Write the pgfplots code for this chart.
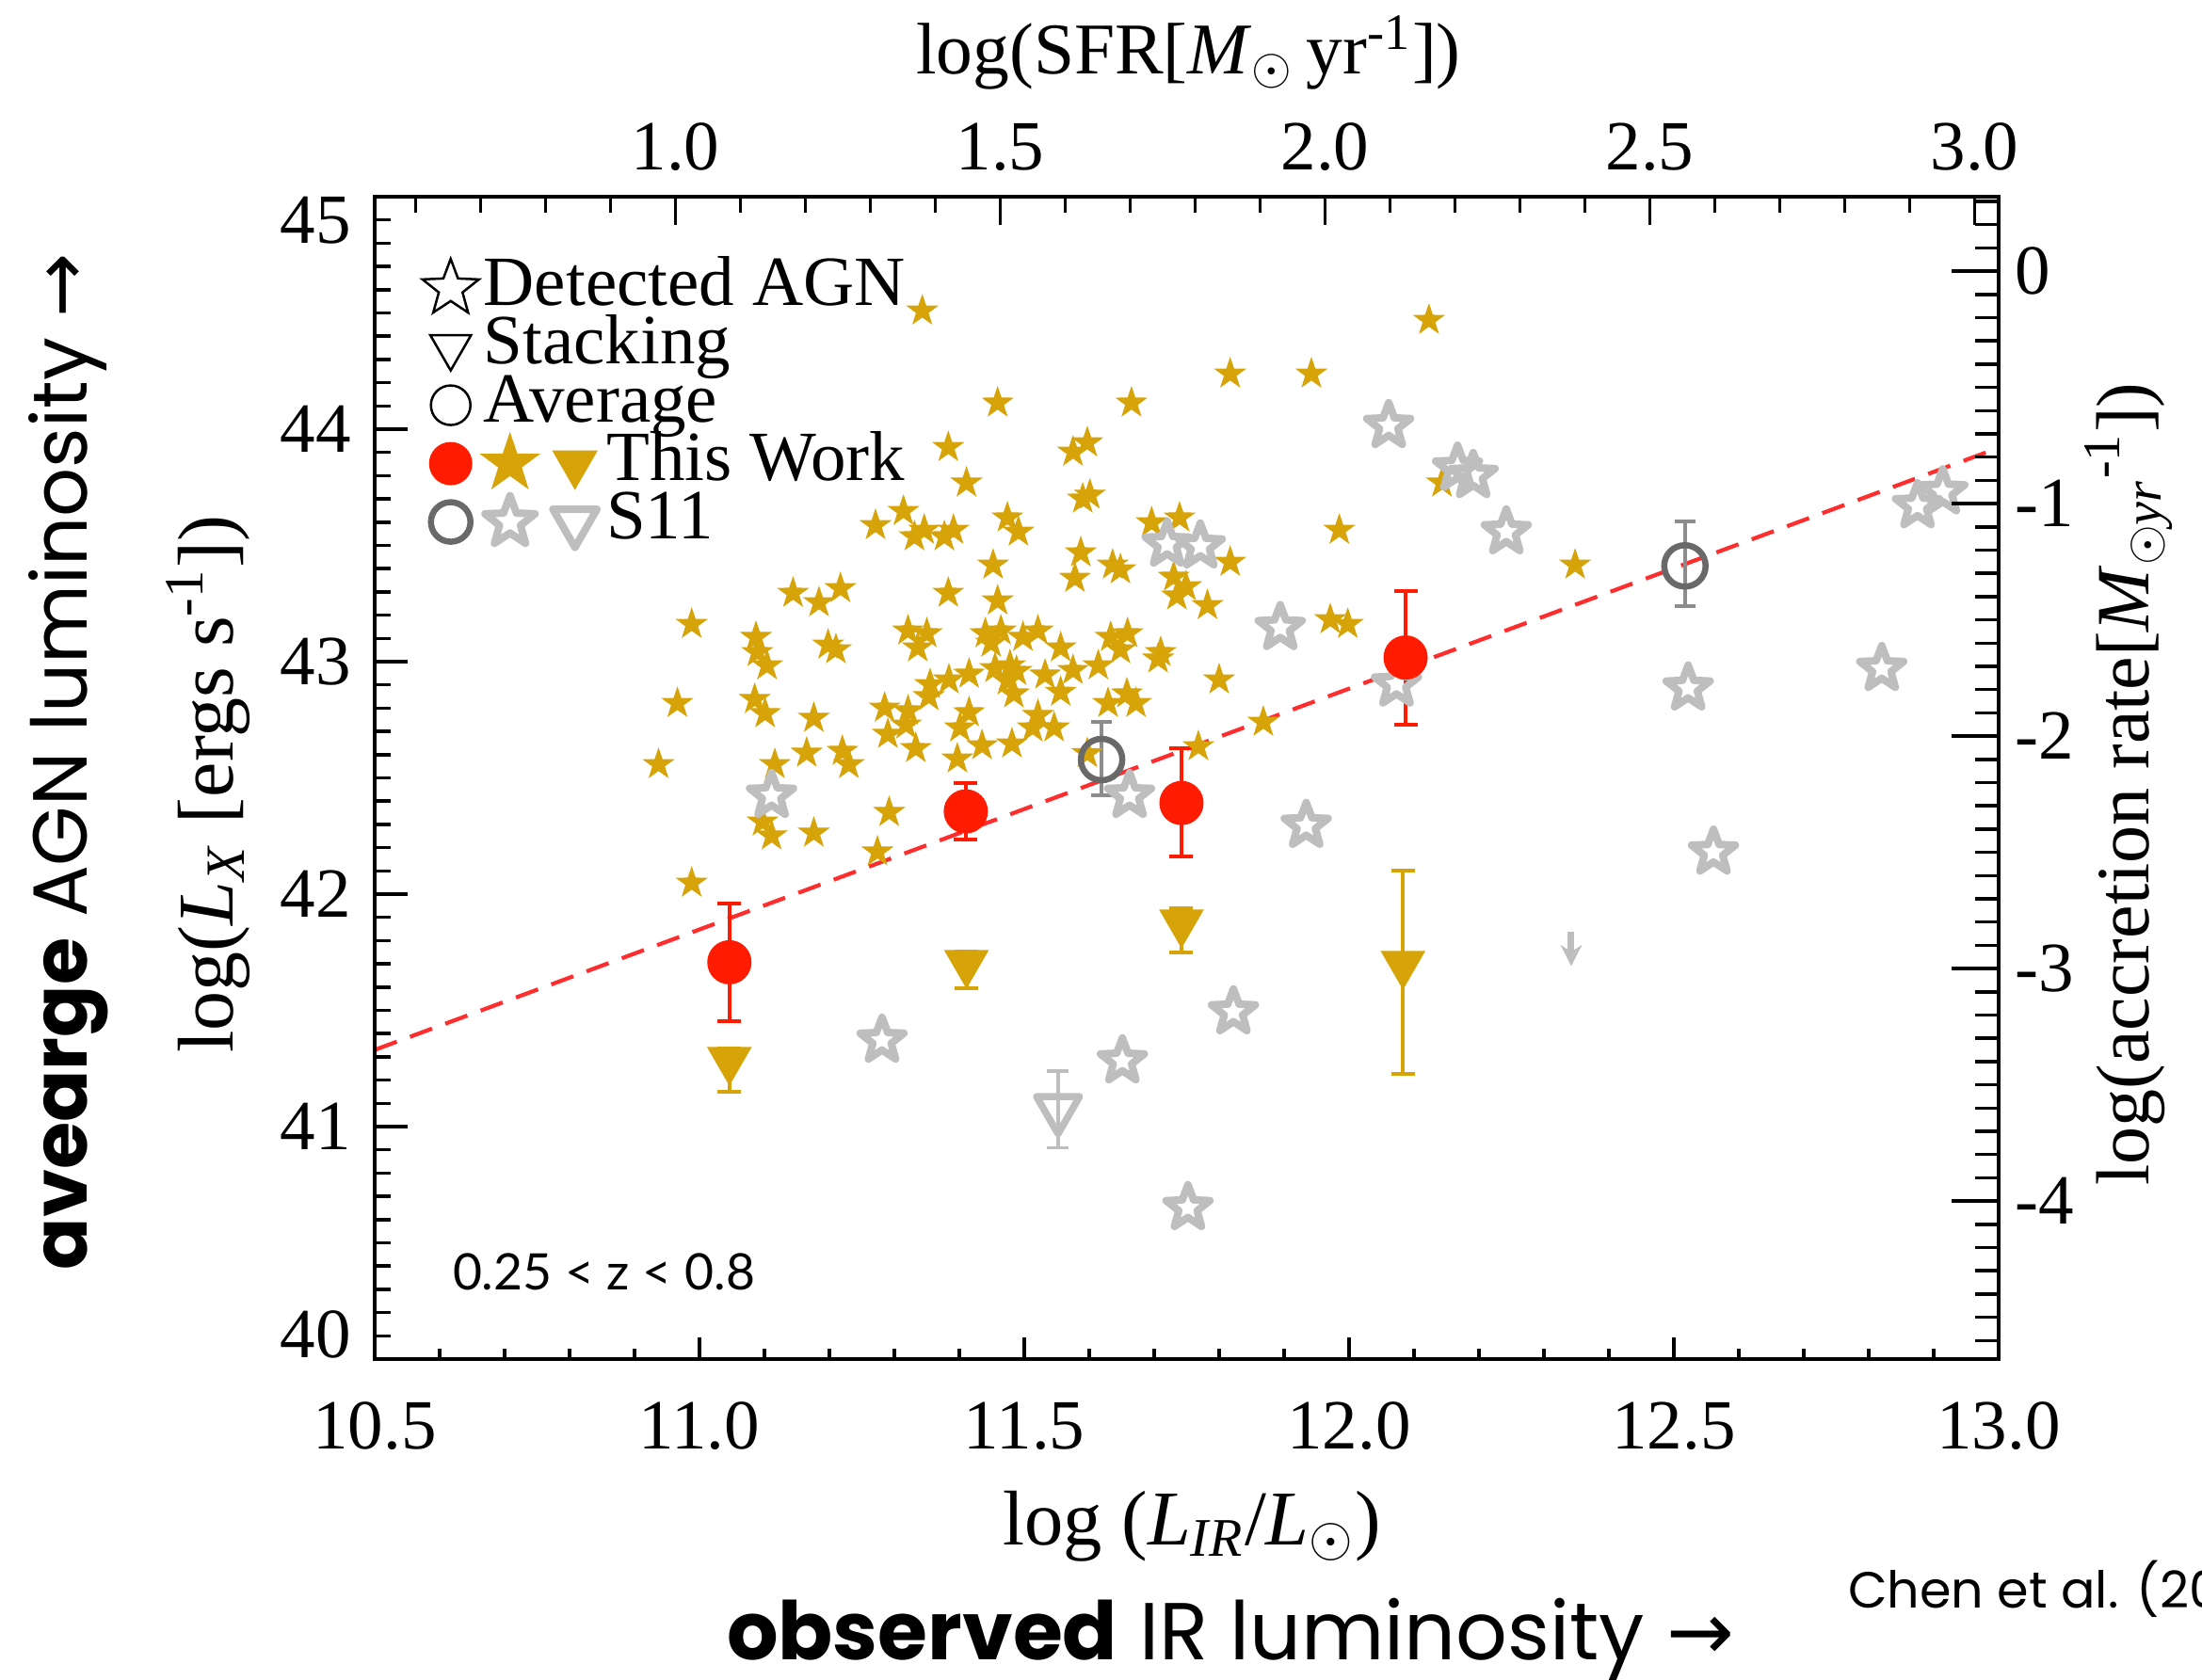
\documentclass[border=0pt]{standalone}
\usepackage{pgfplots}
\pgfplotsset{compat=1.18}
\usepackage{fontspec}
\setmainfont{Liberation Serif}
\newfontfamily\gothic{Poppins}
\newfontfamily\dejavu{DejaVu Sans}
\newfontfamily\latofont{Lato}
\usetikzlibrary{arrows.meta}

\definecolor{mygold}{RGB}{214,163,8}
\definecolor{myred}{RGB}{255,28,0}
\definecolor{dashred}{RGB}{255,45,45}
\definecolor{lgray}{RGB}{190,190,190}
\definecolor{dgray}{RGB}{105,105,105}
\definecolor{egray}{RGB}{140,140,140}

\pgfdeclareplotmark{fstar}{%
  \pgfpathmoveto{\pgfpointpolar{90}{\pgfplotmarksize}}%
  \pgfpathlineto{\pgfpointpolar{126}{0.39\pgfplotmarksize}}%
  \pgfpathlineto{\pgfpointpolar{162}{\pgfplotmarksize}}%
  \pgfpathlineto{\pgfpointpolar{198}{0.39\pgfplotmarksize}}%
  \pgfpathlineto{\pgfpointpolar{234}{\pgfplotmarksize}}%
  \pgfpathlineto{\pgfpointpolar{270}{0.39\pgfplotmarksize}}%
  \pgfpathlineto{\pgfpointpolar{306}{\pgfplotmarksize}}%
  \pgfpathlineto{\pgfpointpolar{342}{0.39\pgfplotmarksize}}%
  \pgfpathlineto{\pgfpointpolar{18}{\pgfplotmarksize}}%
  \pgfpathlineto{\pgfpointpolar{54}{0.39\pgfplotmarksize}}%
  \pgfpathclose
  \pgfusepathqfillstroke
}
\pgfdeclareplotmark{ostar}{%
  \pgfpathmoveto{\pgfpointpolar{90}{\pgfplotmarksize}}%
  \pgfpathlineto{\pgfpointpolar{126}{0.42\pgfplotmarksize}}%
  \pgfpathlineto{\pgfpointpolar{162}{\pgfplotmarksize}}%
  \pgfpathlineto{\pgfpointpolar{198}{0.42\pgfplotmarksize}}%
  \pgfpathlineto{\pgfpointpolar{234}{\pgfplotmarksize}}%
  \pgfpathlineto{\pgfpointpolar{270}{0.42\pgfplotmarksize}}%
  \pgfpathlineto{\pgfpointpolar{306}{\pgfplotmarksize}}%
  \pgfpathlineto{\pgfpointpolar{342}{0.42\pgfplotmarksize}}%
  \pgfpathlineto{\pgfpointpolar{18}{\pgfplotmarksize}}%
  \pgfpathlineto{\pgfpointpolar{54}{0.42\pgfplotmarksize}}%
  \pgfpathclose
  \pgfusepathqstroke
}

\pgfplotsset{
  base/.style={
    at={(79.6pt,68pt)}, anchor=south west,
    scale only axis, width=345pt, height=247pt,
    xmin=10.5, xmax=13, ymin=40, ymax=45,
    axis line style={line width=0.8pt},
    every tick/.style={black, line width=0.7pt},
    tick align=inside,
    tick label style={font=\fontsize{15}{15}\selectfont},
    /pgf/number format/assume math mode=true,
  },
}

\begin{document}
\begin{tikzpicture}[x=1pt,y=1pt]

% ---------- main axis with data and bottom ticks
\begin{axis}[base,
  xtick={10.5,11,11.5,12,12.5,13},
  minor x tick num=4,
  xtick pos=left,
  ytick=\empty,
  major tick length=4.7pt, minor tick length=2.3pt,
  xticklabel style={/pgf/number format/fixed, /pgf/number format/fixed zerofill,
    /pgf/number format/precision=1, yshift=-5.6pt},
  legend cell align=left,
  legend style={at={(0.0265,0.9461)}, anchor=north west, draw=none, fill=none,
    inner sep=0pt, outer sep=0pt, row sep=0pt, /tikz/column sep=0pt,
    font=\fontsize{15}{15}\selectfont,
    nodes={inner sep=0pt, text height=9.8pt, text depth=2.6pt}},
]

% This Work: detected AGN (filled gold stars)
\addplot[forget plot, only marks, mark=fstar, mark size=3.3pt, color=mygold,
  mark options={line width=0.2pt}] coordinates {
(11.343,44.509) (11.383,43.922) (11.411,43.769) (11.271,43.586) (11.314,43.647)
(11.331,43.538) (11.346,43.566) (11.377,43.538) (11.391,43.566) (11.144,43.295)
(11.184,43.254) (11.217,43.315) (11.383,43.295) (11.459,44.113) (11.665,44.113)
(11.817,44.238) (11.575,43.902) (11.597,43.942) (11.590,43.700) (11.601,43.717)
(11.474,43.619) (11.491,43.558) (11.587,43.469) (11.636,43.416) (11.648,43.396)
(11.578,43.359) (11.452,43.416) (11.459,43.262) (11.696,43.598) (11.739,43.619)
(11.817,43.428) (11.730,43.364) (11.749,43.323) (11.735,43.283) (11.782,43.242)
(12.123,44.469) (11.942,44.238) (12.143,43.769) (11.985,43.566) (12.348,43.416)
(10.988,43.161) (11.087,43.105) (11.089,43.040) (11.104,42.983) (11.198,43.072)
(11.210,43.052) (11.321,43.133) (11.350,43.121) (11.336,43.060) (10.966,42.821)
(11.085,42.838) (11.101,42.777) (11.176,42.757) (11.355,42.902) (11.384,42.922)
(11.353,42.850) (11.415,42.947) (11.285,42.801) (11.321,42.789) (11.290,42.688)
(11.318,42.728) (11.333,42.627) (11.401,42.716) (11.397,42.582) (11.415,42.781)
(10.937,42.558) (11.165,42.607) (11.220,42.615) (11.230,42.558) (11.116,42.558)
(11.097,42.311) (11.111,42.251) (11.176,42.263) (11.292,42.352) (11.274,42.182)
(10.988,42.048) (11.440,43.121) (11.464,43.133) (11.449,43.080) (11.498,43.105)
(11.521,43.133) (11.556,43.060) (11.633,43.105) (11.659,43.121) (11.648,43.052)
(11.710,43.040) (11.706,43.012) (11.800,42.922) (11.455,42.971) (11.478,42.983)
(11.488,42.959) (11.474,42.918) (11.532,42.943) (11.575,42.963) (11.614,42.983)
(11.556,42.869) (11.484,42.862) (11.629,42.821) (11.658,42.862) (11.672,42.821)
(11.521,42.769) (11.546,42.716) (11.513,42.716) (11.435,42.639) (11.481,42.647)
(11.768,42.635) (11.868,42.740) (11.971,43.181) (11.998,43.161) (11.597,42.605)
};

% S11: detected AGN (open light-gray stars)
\addplot[forget plot, only marks, mark=ostar, mark size=4.9pt, color=lgray,
  mark options={line width=1.6pt, line join=round}] coordinates {
(11.111,42.424) (11.281,41.371) (11.651,41.282) (11.822,41.493) (11.752,40.651)
(11.662,42.424) (11.720,43.505) (11.771,43.497) (11.894,43.146) (11.934,42.295)
(12.061,44.015) (12.073,42.903) (12.167,43.832) (12.191,43.800) (12.242,43.558)
(12.522,42.886) (12.561,42.180) (12.820,42.970) (12.875,43.670) (12.914,43.730)
};

% S11 upper limit arrow
\addplot[forget plot, color=lgray, line width=1.4pt, -{Stealth[length=4.5pt,width=4.5pt]}]
  coordinates {(12.342,41.84) (12.342,41.69)};

% S11 stacking (open light-gray triangle)
\addplot[forget plot, only marks, mark=triangle, mark size=5.3pt, color=lgray,
  mark options={rotate=180, line width=1.5pt, line join=round},
  error bars/.cd, y dir=both, y explicit,
  error bar style={line width=0.7pt, color=lgray},
  error mark options={rotate=90, line width=0.7pt, mark size=2.3pt, color=lgray}]
  coordinates {(11.552,41.076) += (0,0.162) -= (0,0.166)};

% fit line
\addplot[forget plot, color=dashred, line width=0.85pt, dash pattern=on 5pt off 3pt]
  coordinates {(10.5,41.33) (13.0,43.92)};

% This Work stacking (gold filled triangles)
\addplot[forget plot, only marks, mark=triangle*, mark size=5.1pt, color=mygold,
  mark options={rotate=180},
  error bars/.cd, y dir=both, y explicit,
  error bar style={line width=0.8pt},
  error mark options={rotate=90, line width=0.8pt, mark size=2.5pt}]
  coordinates {
  (11.046,41.287) += (0,0.05) -= (0,0.138)
  (11.411,41.704) += (0,0.05) -= (0,0.110)
  (11.742,41.878) += (0,0.06) -= (0,0.130)
  (12.083,41.700) += (0,0.40) -= (0,0.475)
};

% S11 average (open dark-gray circles)
\addplot[forget plot, only marks, mark=o, mark size=4.4pt, color=dgray,
  mark options={line width=1.3pt},
  error bars/.cd, y dir=both, y explicit,
  error bar style={line width=0.8pt, color=egray},
  error mark options={rotate=90, line width=0.8pt, mark size=2.2pt, color=egray}]
  coordinates {
  (11.619,42.579) += (0,0.161) -= (0,0.154)
  (12.517,43.412) += (0,0.190) -= (0,0.175)
};

% This Work average (red filled circles)
\addplot[forget plot, only marks, mark=*, mark size=4.5pt, color=myred,
  error bars/.cd, y dir=both, y explicit,
  error bar style={line width=0.8pt},
  error mark options={rotate=90, line width=0.8pt, mark size=2.5pt}]
  coordinates {
  (11.046,41.707) += (0,0.252) -= (0,0.254)
  (11.410,42.356) += (0,0.122) -= (0,0.122)
  (11.742,42.392) += (0,0.236) -= (0,0.230)
  (12.087,43.018) += (0,0.285) -= (0,0.290)
};

% ---------- legend
\addlegendimage{legend image code/.code={%
  \draw[overlay, black, line width=0.5pt] plot[only marks, mark=ostar, mark size=6.3pt] coordinates {(0pt,0pt)};%
  \path[draw=none, fill=none] (-7pt,-6.2pt) rectangle (33.1pt,6.2pt);}}
\addlegendentry{\hspace*{-26.1pt}Detected AGN}
\addlegendimage{legend image code/.code={%
  \draw[overlay, black, line width=0.5pt] plot[only marks, mark=triangle, mark size=5pt, mark options={rotate=180}] coordinates {(0pt,0pt)};%
  \path[draw=none, fill=none] (-7pt,-6.2pt) rectangle (33.1pt,6.2pt);}}
\addlegendentry{\hspace*{-26.1pt}Stacking}
\addlegendimage{legend image code/.code={%
  \draw[overlay, black, line width=0.5pt] plot[only marks, mark=o, mark size=4.2pt] coordinates {(0pt,0pt)};%
  \path[draw=none, fill=none] (-7pt,-6.2pt) rectangle (33.1pt,6.2pt);}}
\addlegendentry{\hspace*{-26.1pt}Average}
\addlegendimage{legend image code/.code={%
  \draw[overlay, myred] plot[only marks, mark=*, mark size=4.4pt] coordinates {(0pt,0pt)};%
  \draw[overlay, mygold, line width=0.3pt] plot[only marks, mark=fstar, mark size=6.3pt] coordinates {(12.6pt,0pt)};%
  \draw[overlay, mygold] plot[only marks, mark=triangle*, mark size=5.2pt, mark options={rotate=180}] coordinates {(26.4pt,0pt)};%
  \path[draw=none, fill=none] (-7pt,-6.2pt) rectangle (33.1pt,6.2pt);}}
\addlegendentry{This Work}
\addlegendimage{legend image code/.code={%
  \draw[overlay, dgray, line width=1.3pt] plot[only marks, mark=o, mark size=4.2pt] coordinates {(0pt,0pt)};%
  \draw[overlay, lgray, line width=1.6pt, line join=round] plot[only marks, mark=ostar, mark size=5.6pt] coordinates {(12.6pt,0pt)};%
  \draw[overlay, lgray, line width=1.6pt, line join=round] plot[only marks, mark=triangle, mark size=5.4pt, mark options={rotate=180}] coordinates {(26.4pt,0pt)};%
  \path[draw=none, fill=none] (-7pt,-6.2pt) rectangle (33.1pt,6.2pt);}}
\addlegendentry{S11}
\end{axis}

% ---------- left ticks
\begin{axis}[base, hide x axis,
  ytick={40,41,42,43,44,45}, minor y tick num=9, ytick pos=left,
  major tick length=7pt, minor tick length=3.3pt,
  yticklabel={\pgfmathparse{int(round(\tick))}%
    \ifnum\pgfmathresult=45 \raisebox{-5.1pt}[\height][\depth]{45}%
    \else\ifnum\pgfmathresult=40 \raisebox{5.3pt}[\height][\depth]{40}%
    \else\pgfmathresult\fi\fi},
  yticklabel style={xshift=-1.5pt}]
\end{axis}

% ---------- top axis: SFR
\begin{axis}[base, xmin=0.537, xmax=3.037, hide y axis,
  xtick={1,1.5,2,2.5,3}, minor xtick={0.6,0.7,...,3.0}, xtick pos=right,
  major tick length=6pt, minor tick length=3.3pt,
  xticklabel style={/pgf/number format/fixed, /pgf/number format/fixed zerofill,
    /pgf/number format/precision=1, yshift=2pt}]
\end{axis}

% ---------- right axis: accretion rate
\begin{axis}[base, ymin=-4.68, ymax=0.32, hide x axis,
  ytick={-4,-3,-2,-1,0}, minor ytick={-4.6,-4.5,...,0.3}, ytick pos=right,
  major tick length=10pt, minor tick length=5pt]
\end{axis}

% ---------- labels
\node[anchor=base, font=\fontsize{15.5}{15.5}\selectfont] at (252.5,341)
  {log(SFR[\textit{M}\textsubscript{$\odot$}\,yr\textsuperscript{-1}])};
\node[anchor=base, font=\fontsize{16.5}{16.5}\selectfont] at (253.3,28.6)
  {log (\textit{L}\textsubscript{\textit{IR}}/\textit{L}\textsubscript{$\odot$})};
\node[anchor=base, rotate=90, font=\fontsize{16.8}{16.8}\selectfont] at (49.4,190.2)
  {log(\textit{L}\textsubscript{\textit{X}} [ergs s\textsuperscript{-1}])};
\node[anchor=base, rotate=90, font=\fontsize{16}{16}\selectfont] at (456.5,190.2)
  {log(accretion rate[\textit{M}\textsubscript{$\odot$\textit{yr}}\textsuperscript{-1}])};

\node[anchor=base west, inner sep=0pt] at (96,82.8)
  {\resizebox{64.2pt}{!}{\latofont 0.25 < z < 0.8}};

\node[anchor=base, inner sep=0pt] at (261.4,4.2)
  {\resizebox{214pt}{!}{\gothic\fontsize{17}{17}\selectfont\bfseries observed\mdseries{} IR luminosity {\dejavu →}}};
\node[anchor=base, rotate=90, inner sep=0pt] at (18.5,195)
  {\resizebox{216pt}{!}{\gothic\fontsize{17}{17}\selectfont\bfseries avearge\mdseries{} AGN luminosity {\dejavu →}}};
\node[anchor=base west, inner sep=0pt] at (392.4,15.2)
  {\gothic\fontsize{10.8}{12}\selectfont Chen et al. (2013)};

\pgfresetboundingbox
\path[use as bounding box] (0,0) rectangle (467.8,356.8);
\end{tikzpicture}
\end{document}
